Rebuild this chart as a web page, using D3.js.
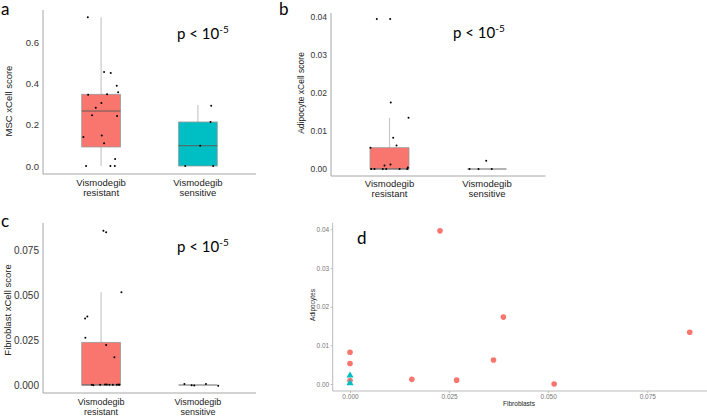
<!DOCTYPE html>
<html lang="en">
<head>
<meta charset="UTF-8">
<title>xCell scores by vismodegib response</title>
<script src="https://d3js.org/d3.v7.min.js"></script>
<style>
  body { margin: 0; background: #fff; }
  svg text { font-family: "Liberation Sans", Arial, sans-serif; }
  .ann { font-family: Lato, "Open Sans", sans-serif; fill: #000; }
</style>
</head>
<body>
<script>
// groups on the x axis of the box plots
const groups = [0, 1];
const groupLabels = [["Vismodegib", "resistant"], ["Vismodegib", "sensitive"]];
const groupColors = ["#F8766D", "#00BFC4"];

// box stats per group: [lower whisker, q1, median, q3, upper whisker]
const mscBox = [[0, 0.092, 0.266, 0.347, 0.72], [0, 0, 0.098, 0.213, 0.295]];
const adipoBox = [[0, 0, 0, 0.0056, 0.0135], [0, 0, 0, 0, 0]];
const fibroBox = [[0, 0, 0, 0.0237, 0.0515], [0, 0, 0, 0, 0]];

// jittered samples: [group, jitter (share of group step), score]
const mscPoints = [
  [0, -0.137, 0.72], [0, 0.031, 0.455], [0, 0.100, 0.45], [0, 0.162, 0.388],
  [0, 0.176, 0.357], [0, -0.134, 0.345], [0, 0.062, 0.347], [0, 0.003, 0.305],
  [0, -0.055, 0.282], [0, -0.093, 0.245], [0, 0.165, 0.242], [0, -0.183, 0.14],
  [0, 0.007, 0.148], [0, 0.031, 0.11], [0, 0.145, 0.034], [0, -0.155, 0],
  [0, 0.096, 0], [0, 0.142, 0],
  [1, 0.137, 0.292], [1, 0.131, 0.213], [1, 0.024, 0.098], [1, -0.131, 0], [1, 0.158, 0]
];
const adipoPoints = [
  [0, -0.13, 0.0395], [0, 0.007, 0.0395], [0, 0.013, 0.0175], [0, 0.195, 0.0135],
  [0, 0.038, 0.0082], [0, 0.072, 0.0062], [0, -0.195, 0.0056], [0, -0.051, 0.0009],
  [0, 0.01, 0.0012], [0, 0.188, 0.0004], [0, -0.188, 0], [0, -0.154, 0],
  [0, -0.069, 0], [0, -0.034, 0], [0, 0.103, 0], [0, 0.182, 0],
  [1, -0.087, 0], [1, 0.049, 0], [1, -0.18, 0], [1, -0.008, 0.0022]
];
const fibroPoints = [
  [0, 0.024, 0.0857], [0, 0.052, 0.0848], [0, 0.21, 0.0515], [0, -0.142, 0.038],
  [0, -0.165, 0.037], [0, -0.162, 0.0263], [0, 0.052, 0.0222], [0, 0.137, 0.0154],
  [0, -0.096, 0.0002], [0, -0.08, -0.0002], [0, -0.01, 0.0002], [0, 0.041, 0.0003],
  [0, 0.059, 0.0003], [0, 0.086, 0.0002], [0, 0.121, 0.0001], [0, 0.162, 0.0002],
  [0, 0.179, 0.0003], [0, 0.189, 0.0001],
  [1, -0.14, 0.0005], [1, -0.065, -0.0002], [1, -0.038, -0.0003], [1, 0.083, 0.0005], [1, 0.21, -0.0004]
];

// tick values
const mscTicks = [0, 0.2, 0.4, 0.6];
const adipoTicks = [0, 0.01, 0.02, 0.03, 0.04];
const fibroTicks = [0, 0.025, 0.05, 0.075];

// scatter (panel d): fibroblast vs adipocyte score per sample
const scatterFibro = [0.0227, 0.0387, 0.0857, 0.0362, 0.0156, 0.0269, 0.0515, 0, 0, 0, 0, 0];
const scatterAdipo = [0.0396, 0.0173, 0.0134, 0.0062, 0.0012, 0.0010, 0.0000, 0.0082, 0.0053, 0.0009, 0.0022, 0.0002];
const scatterGroup = [0, 0, 0, 0, 0, 0, 0, 0, 0, 0, 1, 1];
const scatterXTicks = [0, 0.025, 0.05, 0.075];
const scatterYTicks = [0, 0.01, 0.02, 0.03, 0.04];

const width = 707, height = 417;
const svg = d3.select("body").append("svg")
  .attr("width", width)
  .attr("height", height);

function boxPanel(cfg) {
  const g = svg.append("g");
  const x = d3.scalePoint().domain(groups).range(cfg.xRange).padding(0.6);
  const y = d3.scaleLinear().domain(cfg.yDomain).range(cfg.yRange);
  const step = x.step();
  const bw = step * 0.4;

  // axis lines
  g.append("line")
    .attr("x1", cfg.xRange[0]).attr("x2", cfg.xRange[0])
    .attr("y1", cfg.axisTop).attr("y2", cfg.axisBottom)
    .attr("stroke", "#a6a6a6").attr("stroke-width", 1);
  g.append("line")
    .attr("x1", cfg.xRange[0]).attr("x2", cfg.xRange[1])
    .attr("y1", cfg.axisBottom).attr("y2", cfg.axisBottom)
    .attr("stroke", "#a6a6a6").attr("stroke-width", 1);

  // y ticks
  const yAxis = g.append("g")
    .attr("transform", `translate(${cfg.xRange[0]},0)`)
    .call(d3.axisLeft(y).tickValues(cfg.ticks).tickFormat(d3.format(cfg.fmt)).tickSize(0).tickPadding(4));
  yAxis.select(".domain").remove();
  yAxis.selectAll("text").attr("fill", "#333").style("font-size", cfg.tickSize + "px");

  // category labels
  groups.forEach(k => {
    const t = g.append("text")
      .attr("x", x(k)).attr("y", cfg.labelY)
      .attr("text-anchor", "middle")
      .attr("fill", "#222")
      .style("font-size", cfg.labelSize + "px");
    groupLabels[k].forEach((s, i) => {
      t.append("tspan").attr("x", x(k)).attr("dy", i === 0 ? 0 : cfg.labelGap).text(s);
    });
  });

  // y title
  g.append("text")
    .attr("transform", `translate(${cfg.titleX},${cfg.titleY}) rotate(-90)`)
    .attr("text-anchor", "middle")
    .attr("fill", "#222")
    .style("font-size", cfg.titleSize + "px")
    .text(cfg.title);

  // boxes
  cfg.box.forEach((b, k) => {
    const cx = x(k);
    g.append("line")
      .attr("x1", cx).attr("x2", cx)
      .attr("y1", y(b[0])).attr("y2", y(b[4]))
      .attr("stroke", "#c8c8c8").attr("stroke-width", 1.2);
    g.append("rect")
      .attr("x", cx - bw / 2).attr("width", bw)
      .attr("y", y(b[3])).attr("height", y(b[1]) - y(b[3]))
      .attr("fill", groupColors[k])
      .attr("stroke", "#9a9a9a").attr("stroke-width", 0.8);
    g.append("line")
      .attr("x1", cx - bw / 2).attr("x2", cx + bw / 2)
      .attr("y1", y(b[2])).attr("y2", y(b[2]))
      .attr("stroke", "#555").attr("stroke-width", 0.9);
  });

  // samples
  g.selectAll("circle.pt")
    .data(cfg.points)
    .join("circle")
    .attr("class", "pt")
    .attr("cx", d => x(d[0]) + d[1] * step)
    .attr("cy", d => y(d[2]))
    .attr("r", 1)
    .attr("fill", "#000");

  // p-value annotation
  const p = g.append("text")
    .attr("class", "ann")
    .attr("x", cfg.pPos[0]).attr("y", cfg.pPos[1])
    .style("font-size", "15px");
  p.append("tspan").text("p < 10");
  p.append("tspan").attr("dy", -6).style("font-size", "10px").text("-5");

  // panel letter
  g.append("text")
    .attr("class", "ann")
    .attr("x", cfg.letterPos[0]).attr("y", cfg.letterPos[1])
    .style("font-size", "17px")
    .text(cfg.letter);
}

boxPanel({
  letter: "a", letterPos: [1, 15],
  xRange: [43, 256], yDomain: [0, 0.6], yRange: [166, 42],
  axisTop: 10, axisBottom: 174,
  ticks: mscTicks, fmt: ".1f", tickSize: 9.5,
  title: "MSC xCell score", titleX: 12, titleY: 101, titleSize: 9.5,
  labelY: 186, labelGap: 10, labelSize: 9.5, box: mscBox, points: mscPoints, pPos: [177, 39]
});

boxPanel({
  letter: "b", letterPos: [279, 15],
  xRange: [331, 545.5], yDomain: [0, 0.04], yRange: [169, 17],
  axisTop: 13, axisBottom: 176,
  ticks: adipoTicks, fmt: ".2f", tickSize: 8.5,
  title: "Adipocyte xCell score", titleX: 304, titleY: 93, titleSize: 8.5,
  labelY: 187, labelGap: 10, labelSize: 9.5, box: adipoBox, points: adipoPoints, pPos: [453, 37.5]
});

boxPanel({
  letter: "c", letterPos: [1, 227],
  xRange: [43, 256], yDomain: [0, 0.075], yRange: [385, 250],
  axisTop: 223, axisBottom: 393,
  ticks: fibroTicks, fmt: ".3f", tickSize: 10,
  title: "Fibroblast xCell score", titleX: 11, titleY: 310, titleSize: 9.5,
  labelY: 405, labelGap: 9.8, labelSize: 9, box: fibroBox, points: fibroPoints, pPos: [177, 252]
});

// panel d: scatter
(function () {
  const g = svg.append("g");
  const x = d3.scaleLinear().domain([0, 0.075]).range([350, 647.3]);
  const y = d3.scaleLinear().domain([0, 0.04]).range([384, 229.3]);
  const left = 332.7, bottom = 391;

  g.append("line")
    .attr("x1", left).attr("x2", left).attr("y1", 223).attr("y2", bottom)
    .attr("stroke", "#bbb").attr("stroke-width", 1);
  g.append("line")
    .attr("x1", left).attr("x2", 707).attr("y1", bottom).attr("y2", bottom)
    .attr("stroke", "#bbb").attr("stroke-width", 1);

  const xAxis = g.append("g")
    .attr("transform", `translate(0,${bottom})`)
    .call(d3.axisBottom(x).tickValues(scatterXTicks).tickFormat(d3.format(".3f")).tickSize(2).tickPadding(1.5));
  xAxis.select(".domain").remove();
  xAxis.selectAll("line").attr("stroke", "#bbb");
  xAxis.selectAll("text").attr("fill", "#777").style("font-size", "6.5px");

  const yAxis = g.append("g")
    .attr("transform", `translate(${left},0)`)
    .call(d3.axisLeft(y).tickValues(scatterYTicks).tickFormat(d3.format(".2f")).tickSize(2).tickPadding(1.5));
  yAxis.select(".domain").remove();
  yAxis.selectAll("line").attr("stroke", "#bbb");
  yAxis.selectAll("text").attr("fill", "#777").style("font-size", "6.5px");

  g.append("text")
    .attr("x", 519).attr("y", 406)
    .attr("text-anchor", "middle")
    .attr("fill", "#222")
    .style("font-size", "6.5px")
    .text("Fibroblasts");
  g.append("text")
    .attr("transform", `translate(${315},${305}) rotate(-90)`)
    .attr("text-anchor", "middle")
    .attr("fill", "#222")
    .style("font-size", "6.5px")
    .text("Adipocytes");

  const pts = scatterFibro.map((f, i) => ({ f, a: scatterAdipo[i], k: scatterGroup[i] }));
  g.selectAll("circle.sc")
    .data(pts.filter(d => d.k === 0))
    .join("circle")
    .attr("class", "sc")
    .attr("cx", d => x(d.f))
    .attr("cy", d => y(d.a))
    .attr("r", 2.8)
    .attr("fill", groupColors[0]);
  g.selectAll("path.sc")
    .data(pts.filter(d => d.k === 1))
    .join("path")
    .attr("class", "sc")
    .attr("transform", d => `translate(${x(d.f)},${y(d.a)})`)
    .attr("d", d3.symbol(d3.symbolTriangle).size(22))
    .attr("fill", groupColors[1]);

  g.append("text")
    .attr("class", "ann")
    .attr("x", 357).attr("y", 244)
    .style("font-size", "17px")
    .text("d");
})();
</script>
</body>
</html>
